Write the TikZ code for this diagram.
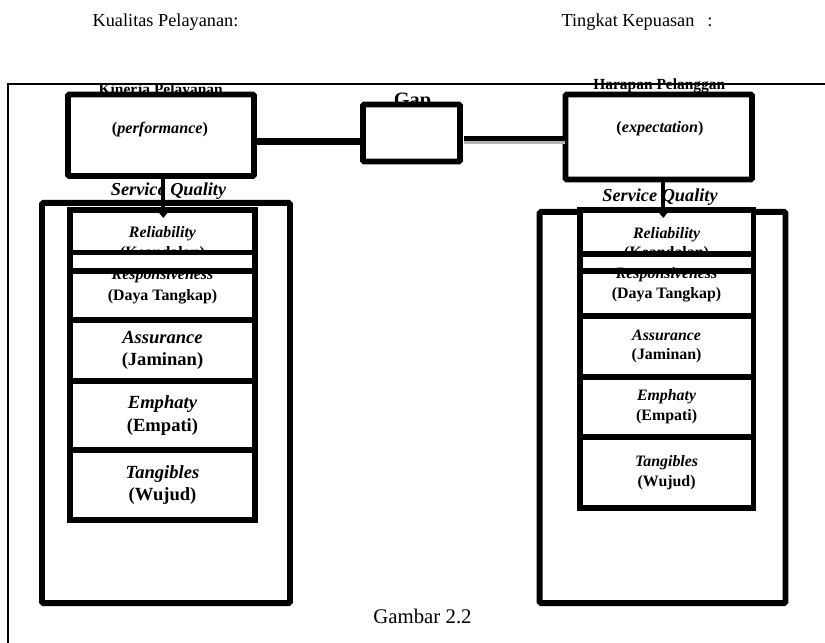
\documentclass[tikz,border=0pt]{standalone}
\usepackage{fontspec}
\setmainfont{Liberation Serif}
\usetikzlibrary{arrows.meta}

\begin{document}
\begin{tikzpicture}[x=0.025cm, y=-0.025cm,
  frame/.style={line width=1.6pt},
  box/.style={draw, line width=4.2pt, rounded corners=1pt, fill=white, inner sep=0pt, outer sep=0pt},
  cell/.style={draw, line width=4.2pt, fill=white, inner sep=0pt, outer sep=0pt, align=center},
  lcell/.style={cell, minimum width=4.625cm, font=\fontsize{11.3}{14.5}\selectfont\bfseries},
  lcellbig/.style={lcell, font=\fontsize{13.2}{16}\selectfont\bfseries},
  rcell/.style={cell, minimum width=4.345cm, font=\fontsize{11.3}{14}\selectfont\bfseries},
  relcell/.style={text height=27.3pt, text depth=2.5pt},
  link/.style={line width=4.7pt},
  arr/.style={-{Triangle[length=6pt,width=9.5pt]}, line width=3pt},
  toplbl/.style={font=\fontsize{13}{15}\selectfont},
  ttl/.style={font=\fontsize{11}{13}\selectfont\bfseries},
  sq/.style={font=\fontsize{13}{15}\selectfont\bfseries\itshape}
]
\useasboundingbox (0,0) rectangle (825,643);

% headings
\node[toplbl] (kualitas) at (165.5,22.3) {Kualitas Pelayanan:};
\node[toplbl] (kepuasan) at (637,22.3) {Tingkat Kepuasan\hspace{0.7em}:};

% titles, partly hidden behind the boxes
\node[ttl] (kinerjaTtl) at (160.7,90.5) {Kinerja Pelayanan};
\node[ttl] (harapanTtl) at (659.3,86) {Harapan Pelanggan};
\node[font=\fontsize{14.5}{16}\selectfont\bfseries] (gapTtl) at (412.5,102) {Gap};

\draw[frame] (825,84) -- (8,84) -- (8,643);

% top row
\node[box, minimum width=4.65cm, minimum height=2.0375cm] (perf) at (161,135.25) {};
\node[box, minimum width=2.425cm, minimum height=1.425cm] (gap) at (411.5,133) {};
\node[box, minimum width=4.6625cm, minimum height=2.125cm] (expt) at (658.75,137) {};
\node[font=\fontsize{11.5}{13}\selectfont\bfseries] (perfTxt) at (160,129.5) {(\textit{performance})};
\node[font=\fontsize{11.5}{13}\selectfont\bfseries] (exptTxt) at (660,128.5) {(\textit{expectation})};

\draw[link] ([yshift=-4.4pt]perf.east) -- ([yshift=-4.4pt]perf.east -| gap.west);
\draw[line width=2.2pt, black!30] ([xshift=2.5pt,yshift=-7pt]gap.east) -- ([yshift=-7pt]gap.east -| expt.west);
\draw[line width=3.4pt] ([xshift=2.5pt,yshift=-3.9pt]gap.east) -- ([yshift=-3.9pt]gap.east -| expt.west);

\node[sq] (sqL) at (168.5,191) {Service Quality};
\node[sq] (sqR) at (660,197) {Service Quality};

% left column
\node[box, minimum width=6.2cm, minimum height=10cm] (bigL) at (166,403) {};
\node[lcell, relcell, minimum height=1.525cm] (relL) at (162.5,240.5) {\textit{Reliability}\\(Keandalan)};
\node[lcell, minimum height=1.6875cm] (respL) at (162.5,286.25) {\textit{Responsiveness}\\(Daya Tangkap)};
\draw[line width=4.2pt] (relL.south west) -- (relL.south east);
\node[lcellbig, minimum height=1.525cm] (asrL) at (162.5,350.5) {\textit{Assurance}\\(Jaminan)};
\node[lcellbig, minimum height=1.725cm] (empL) at (162.5,415.5) {\textit{Emphaty}\\(Empati)};
\node[lcellbig, minimum height=1.75cm] (tanL) at (162.5,485) {\textit{Tangibles}\\(Wujud)};

% right column
\node[box, minimum width=6.145cm, minimum height=9.775cm] (bigR) at (662.6,407.5) {};
\node[rcell, relcell, minimum height=1.525cm] (relR) at (666.6,240.5) {\textit{Reliability}\\(Keandalan)};
\node[rcell, minimum height=1.5425cm] (respR) at (666.6,284.85) {\textit{Responsiveness}\\(Daya Tangkap)};
\draw[line width=4.2pt] (relR.south west) -- (relR.south east);
\node[rcell, minimum height=1.5325cm] (asrR) at (666.6,346.35) {\textit{Assurance}\\(Jaminan)};
\node[rcell, minimum height=1.5cm] (empR) at (666.6,407) {\textit{Emphaty}\\(Empati)};
\node[rcell, minimum height=1.775cm] (tanR) at (666.6,472.5) {\textit{Tangibles}\\(Wujud)};

\coordinate (tipL) at (163.3,218);
\coordinate (tipR) at (663.3,218);
\draw[arr] (perf.south -| tipL) -- (tipL);
\draw[arr] (expt.south -| tipR) -- (tipR);

\node[font=\fontsize{14.8}{17}\selectfont] (caption) at (422.5,616) {Gambar 2.2};
\end{tikzpicture}
\end{document}
